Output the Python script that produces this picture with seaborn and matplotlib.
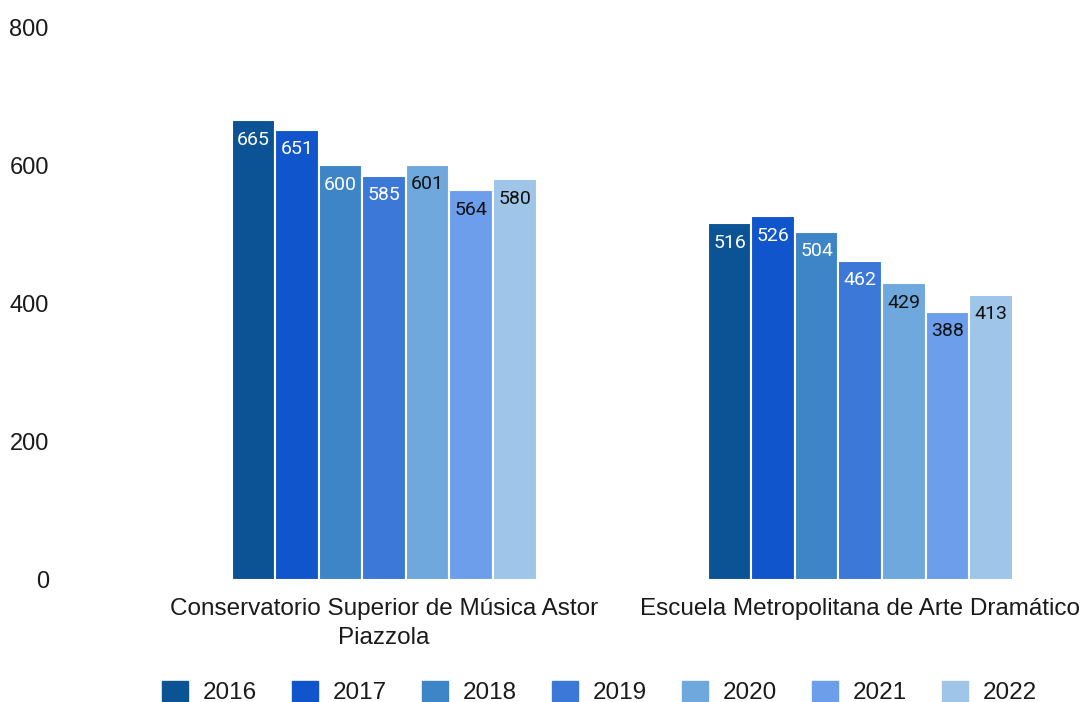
import numpy as np
import pandas as pd
import matplotlib.pyplot as plt
import seaborn as sns

# data
schools = ['Conservatorio Superior de Música Astor\nPiazzola',
           'Escuela Metropolitana de Arte Dramático']
years = ['2016', '2017', '2018', '2019', '2020', '2021', '2022']
conservatorio = [665, 651, 600, 585, 601, 564, 580]
escuela = [516, 526, 504, 462, 429, 388, 413]
palette = ['#0b5394', '#1155cc', '#3d85c6', '#3c78d8', '#6fa8dc', '#6d9eeb', '#9fc5e8']
label_colors = ['white', 'white', 'white', 'white', '#111111', '#111111', '#111111']

df = pd.DataFrame({
    'school': [schools[0]] * len(years) + [schools[1]] * len(years),
    'year': years + years,
    'value': conservatorio + escuela,
})

sns.set_style('white')
plt.rcParams['font.family'] = ['Liberation Sans', 'DejaVu Sans']
plt.rcParams['text.color'] = '#1a1a1a'

fig = plt.figure(figsize=(10.9, 7.02), dpi=100)
ax = fig.add_axes([0.055, 0.1738, 0.936, 0.7877])

sns.barplot(data=df, x='school', y='value', hue='year', hue_order=years,
            palette=palette, width=0.64, edgecolor='white', linewidth=1.5,
            saturation=1, ax=ax)

for i, cont in enumerate(ax.containers):
    for patch in cont:
        h = patch.get_height()
        ax.annotate(f'{h:.0f}', xy=(patch.get_x() + patch.get_width() / 2, h),
                    xytext=(0, -7.5), textcoords='offset points',
                    ha='center', va='top', fontsize=14,
                    family=['Roboto', 'DejaVu Sans'], color=label_colors[i])

ax.set_ylim(0, 800)
ax.set_yticks([0, 200, 400, 600, 800])
ax.set_xlim(-0.681, 1.462)
ax.set_xlabel('')
ax.set_ylabel('')
ax.tick_params(axis='y', labelsize=17, length=0, pad=8, labelcolor='#1a1a1a')
ax.tick_params(axis='x', labelsize=17.5, length=0, pad=13, labelcolor='#1a1a1a')
for lbl in ax.get_xticklabels():
    lbl.set_linespacing(1.4)
for s in ax.spines.values():
    s.set_visible(False)

ax.get_legend().remove()
handles = [plt.Rectangle((0, 0), 1, 1, color=c) for c in palette]
fig.legend(handles, years, loc='lower center', bbox_to_anchor=(0.55, -0.034),
           ncol=7, frameon=False, fontsize=17.5, handlelength=1.07, handleheight=0.9,
           columnspacing=1.45, handletextpad=0.6)

fig.savefig('out.png', dpi=100)
